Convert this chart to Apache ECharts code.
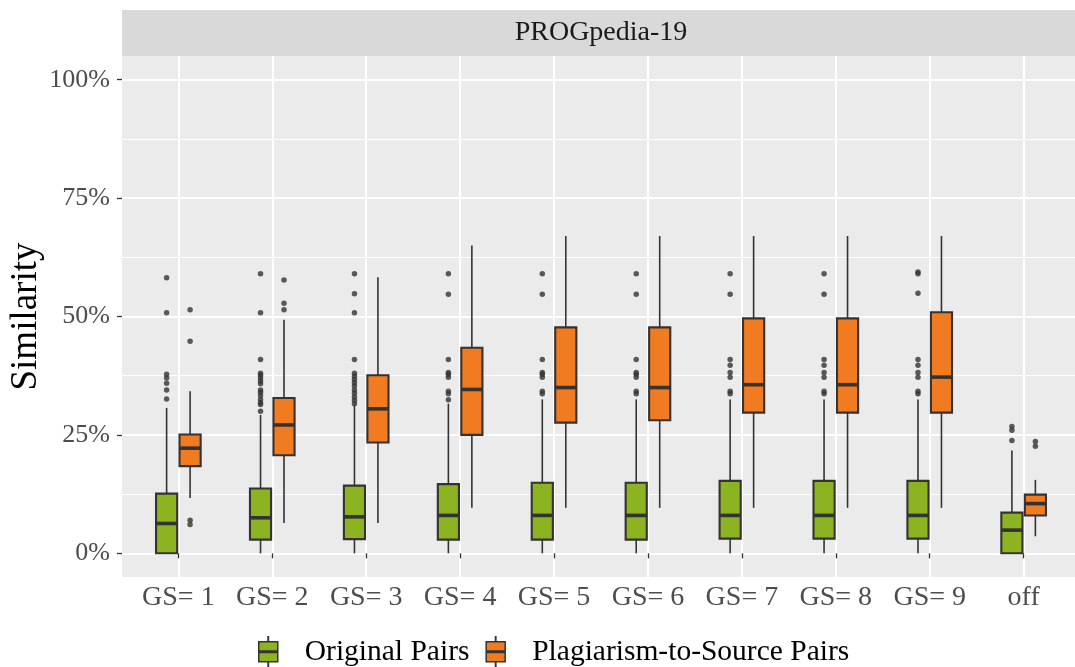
<!DOCTYPE html>
<html>
<head>
<meta charset="utf-8">
<title>PROGpedia-19 similarity</title>
<script src="https://cdn.jsdelivr.net/npm/echarts@6/dist/echarts.min.js"></script>
<style>
  html, body { margin: 0; padding: 0; background: #ffffff; }
  #chart { width: 1075px; height: 667px; }
</style>
</head>
<body>
<div id="chart"></div>
<script>
// Gap-size settings on the x axis
const categories = ['GS= 1', 'GS= 2', 'GS= 3', 'GS= 4', 'GS= 5', 'GS= 6', 'GS= 7', 'GS= 8', 'GS= 9', 'off'];

// Box statistics per setting, in percent: [lower whisker, Q1, median, Q3, upper whisker]
const originalBoxes = [
  [0, 0, 6.3, 12.6, 30.7],
  [0, 2.9, 7.5, 13.7, 29.2],
  [0, 3.0, 7.7, 14.3, 31.3],
  [0, 2.9, 8.0, 14.6, 31.6],
  [0, 2.9, 8.0, 14.9, 32.5],
  [0, 2.9, 8.0, 14.9, 32.5],
  [0, 3.1, 8.0, 15.3, 32.5],
  [0, 3.1, 8.0, 15.3, 32.5],
  [0, 3.1, 8.0, 15.3, 32.5],
  [0, 0, 4.9, 8.6, 21.7]
];
const plagiarismBoxes = [
  [11.7, 18.4, 22.2, 25.1, 34.2],
  [6.4, 20.7, 27.1, 32.8, 49.3],
  [6.4, 23.4, 30.5, 37.6, 58.3],
  [9.6, 25.0, 34.6, 43.4, 65.0],
  [9.6, 27.6, 35.0, 47.7, 67.0],
  [9.6, 28.1, 35.0, 47.7, 67.0],
  [9.6, 29.7, 35.6, 49.6, 67.0],
  [9.6, 29.7, 35.6, 49.6, 67.0],
  [9.6, 29.7, 37.2, 50.9, 67.0],
  [3.6, 8.0, 10.5, 12.4, 15.5]
];

// Outlying pairs per setting, in percent
const originalOutliers = [
  [58.2, 50.8, 37.8, 37.0, 35.9, 34.5, 32.6],
  [59.0, 50.8, 40.9, 38.0, 37.6, 37.0, 36.4, 35.8, 34.5, 34.0, 33.3, 32.5, 31.8, 31.4, 30.0],
  [59.0, 54.8, 50.8, 40.9, 38.0, 37.4, 36.7, 36.0, 35.3, 34.5, 33.8, 33.0, 32.3, 31.6],
  [59.0, 54.7, 40.9, 38.2, 37.8, 37.2, 34.2, 33.7, 32.4],
  [59.0, 54.7, 40.9, 38.2, 37.8, 37.2, 34.2, 33.7],
  [59.0, 54.7, 40.9, 38.2, 37.8, 37.2, 34.2, 33.7],
  [59.0, 54.7, 40.9, 39.7, 38.2, 37.2, 34.2, 33.7],
  [59.0, 54.7, 40.9, 39.7, 38.2, 37.2, 34.2, 33.7],
  [59.4, 59.0, 54.9, 40.9, 39.7, 38.2, 37.2, 34.2, 33.7],
  [26.8, 26.0, 23.8]
];
const plagiarismOutliers = [
  [51.4, 44.8, 7.0, 6.1],
  [57.7, 52.8, 51.4],
  [], [], [], [], [], [], [],
  [23.6, 22.6]
];

const yMajorTicks = [0, 25, 50, 75, 100];
const yMinorTicks = [12.5, 37.5, 62.5, 87.5];

const SERIES_NAMES = ['Original Pairs', 'Plagiarism-to-Source Pairs'];
const COLORS = ['#8CB321', '#F07B20'];
const DODGE = 0.125;      // half the group width, in category units
const BOX_WIDTH = 0.225;  // box width, in category units
const INK = '#333333';
const FONT = '"Liberation Serif", "DejaVu Serif", serif';

function boxRows(boxes) {
  return boxes.map((b, i) => [i + 1].concat(b));
}
function outlierRows(outliers, dodge) {
  const rows = [];
  outliers.forEach((vals, i) => vals.forEach(v => rows.push([i + 1 + dodge, v])));
  return rows;
}

function makeBoxRenderer(dodge, fill) {
  return function (params, api) {
    const x = api.value(0) + dodge;
    const lo = api.coord([x, api.value(1)]);
    const q1 = api.coord([x, api.value(2)]);
    const md = api.coord([x, api.value(3)]);
    const q3 = api.coord([x, api.value(4)]);
    const hi = api.coord([x, api.value(5)]);
    const half = api.size([BOX_WIDTH, 0])[0] / 2;
    const whisker = { stroke: INK, lineWidth: 1.6 };
    return {
      type: 'group',
      children: [
        { type: 'line', shape: { x1: lo[0], y1: lo[1], x2: q1[0], y2: q1[1] }, style: whisker },
        { type: 'line', shape: { x1: q3[0], y1: q3[1], x2: hi[0], y2: hi[1] }, style: whisker },
        { type: 'rect', shape: { x: q3[0] - half, y: q3[1], width: half * 2, height: q1[1] - q3[1] },
          style: { fill: fill, stroke: INK, lineWidth: 2.1 } },
        { type: 'line', shape: { x1: md[0] - half, y1: md[1], x2: md[0] + half, y2: md[1] },
          style: { stroke: INK, lineWidth: 3.6 } }
      ]
    };
  };
}

// Legend key: box with median bar and short whisker stubs
const KEY_ICON = 'path://M9.3,0 L9.7,0 L9.7,5 L9.3,5 Z M0,5 L19,5 L19,25 L0,25 Z M0,14.3 L19,14.3 L19,15.7 L0,15.7 Z M9.3,25 L9.7,25 L9.7,30 L9.3,30 Z';

const chart = echarts.init(document.getElementById('chart'), null, { renderer: 'canvas' });

const option = {
  animation: false,
  backgroundColor: '#ffffff',
  grid: {
    left: 122, right: -5, top: 56, bottom: 90,
    outerBoundsMode: 'none',
    containLabel: false,
    show: true, backgroundColor: '#EBEBEB', borderWidth: 0
  },
  xAxis: {
    type: 'value',
    min: 0.4, max: 10.6,
    axisLine: { show: false },
    axisTick: {
      show: true, length: 5, customValues: categories.map((c, i) => i + 1),
      lineStyle: { color: INK, width: 1.3 }
    },
    axisLabel: {
      show: true, margin: 7, customValues: categories.map((c, i) => i + 1),
      formatter: v => categories[Math.round(v) - 1],
      color: '#4D4D4D', fontFamily: FONT, fontSize: 28
    },
    splitLine: { show: true, lineStyle: { color: '#ffffff', width: 2 } }
  },
  yAxis: [
    {
      type: 'value',
      min: -5, max: 105,
      name: 'Similarity',
      nameLocation: 'middle',
      nameRotate: 90,
      nameGap: 77,
      nameMoveOverlap: false,
      nameTextStyle: { color: '#000000', fontFamily: FONT, fontSize: 37 },
      axisLine: { show: false },
      axisTick: { show: true, length: 5, customValues: yMajorTicks, lineStyle: { color: INK, width: 1.3 } },
      axisLabel: {
        show: true, margin: 12, customValues: yMajorTicks,
        formatter: v => v + '%',
        color: '#4D4D4D', fontFamily: FONT, fontSize: 26
      },
      splitLine: { show: true, lineStyle: { color: '#ffffff', width: 2 } }
    },
    {
      type: 'value',
      min: -5, max: 105,
      position: 'left',
      axisLine: { show: false },
      axisTick: { show: false, customValues: yMinorTicks },
      axisLabel: { show: false },
      splitLine: { show: true, lineStyle: { color: '#ffffff', width: 1 } }
    }
  ],
  legend: {
    data: SERIES_NAMES.map((n, i) => ({ name: n, icon: KEY_ICON })),
    left: 258, top: 636, padding: 0,
    itemWidth: 19, itemHeight: 30, itemGap: 16,
    itemStyle: { borderColor: INK, borderWidth: 1.5 },
    textStyle: { color: '#000000', fontFamily: FONT, fontSize: 29.5, padding: [0, 0, 0, 22] },
    selectedMode: false
  },
  graphic: [
    {
      type: 'rect', left: 122, top: 10, z: 10,
      shape: { width: 958, height: 46 },
      style: { fill: '#D9D9D9' }
    },
    {
      type: 'text', x: 601, y: 33, z: 11,
      style: {
        text: 'PROGpedia-19', fill: '#1A1A1A', font: '28px ' + FONT,
        align: 'center', verticalAlign: 'middle'
      }
    }
  ],
  series: [
    {
      name: SERIES_NAMES[0], type: 'custom', clip: false,
      itemStyle: { color: COLORS[0] },
      renderItem: makeBoxRenderer(-DODGE, COLORS[0]),
      encode: { x: 0, y: [1, 2, 3, 4, 5] },
      data: boxRows(originalBoxes)
    },
    {
      name: SERIES_NAMES[1], type: 'custom', clip: false,
      itemStyle: { color: COLORS[1] },
      renderItem: makeBoxRenderer(DODGE, COLORS[1]),
      encode: { x: 0, y: [1, 2, 3, 4, 5] },
      data: boxRows(plagiarismBoxes)
    },
    {
      name: 'original-outliers', type: 'scatter', symbolSize: 5.5,
      itemStyle: { color: INK }, z: 3,
      data: outlierRows(originalOutliers, -DODGE)
    },
    {
      name: 'plagiarism-outliers', type: 'scatter', symbolSize: 5.5,
      itemStyle: { color: INK }, z: 3,
      data: outlierRows(plagiarismOutliers, DODGE)
    }
  ]
};

chart.setOption(option);
</script>
</body>
</html>
